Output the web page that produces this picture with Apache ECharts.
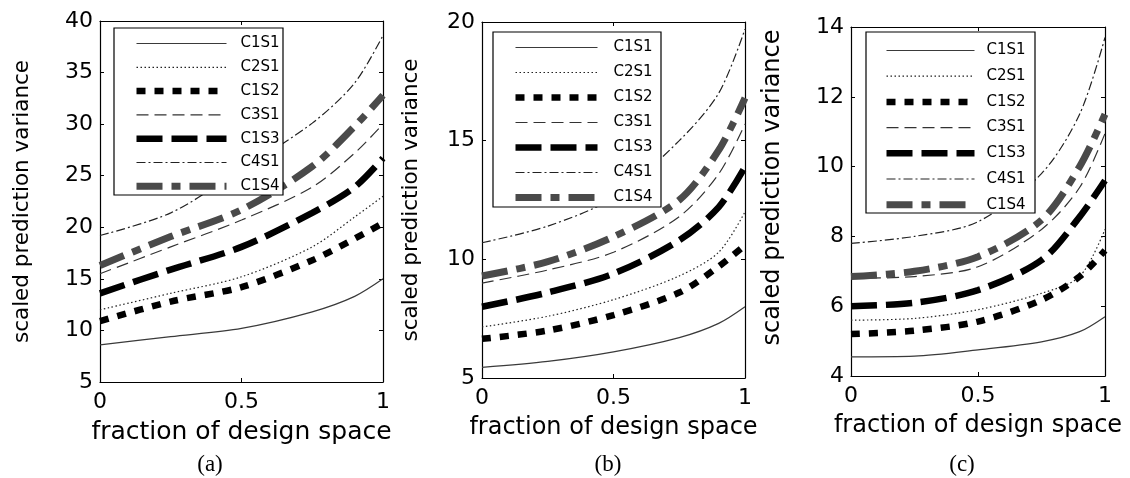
<!DOCTYPE html>
<html lang="en">
<head>
<meta charset="UTF-8">
<title>scaled prediction variance</title>
<script src="https://cdn.jsdelivr.net/npm/echarts/dist/echarts.min.js"></script>
<style>
    html, body { margin: 0; padding: 0; background: #fff; }
    #chart { width: 1130px; height: 478px; }
</style>
</head>
<body>
<div id="chart"></div>
<script>
// fraction of design space where the curves were read
var fds = [0, 0.25, 0.5, 0.75, 0.9, 1];
var names = ['C1S1', 'C2S1', 'C1S2', 'C3S1', 'C1S3', 'C4S1', 'C1S4'];
var xTicks = [0, 0.5, 1];

// (a)
var aC1S1 = [8.6, 9.4, 10.2, 11.8, 13.3, 15.0];
var aC2S1 = [12.0, 13.6, 15.2, 18.1, 21.0, 23.0];
var aC1S2 = [10.9, 12.8, 14.2, 16.8, 18.9, 20.4];
var aC3S1 = [15.5, 18.1, 20.7, 23.9, 27.2, 30.0];
var aC1S3 = [13.6, 15.9, 18.1, 21.4, 23.9, 26.7];
var aC4S1 = [19.2, 21.4, 25.6, 30.1, 34.0, 38.6];
var aC1S4 = [16.3, 19.1, 21.7, 25.9, 29.8, 32.8];
var yTicksA = [5, 10, 15, 20, 25, 30, 35, 40];

// (b)
var bC1S1 = [5.45, 5.7, 6.1, 6.7, 7.3, 8.0];
var bC2S1 = [7.15, 7.6, 8.3, 9.3, 10.3, 12.0];
var bC1S2 = [6.65, 7.0, 7.65, 8.6, 9.7, 10.6];
var bC3S1 = [9.0, 9.55, 10.3, 11.8, 13.6, 15.7];
var bC1S3 = [8.0, 8.6, 9.4, 10.8, 12.2, 13.9];
var bC4S1 = [10.7, 11.4, 12.6, 15.0, 17.0, 19.7];
var bC1S4 = [9.3, 9.9, 10.95, 12.5, 14.6, 16.8];
var yTicksB = [5, 10, 15, 20];

// (c)
var cC1S1 = [4.55, 4.57, 4.75, 4.98, 5.27, 5.7];
var cC2S1 = [5.6, 5.65, 5.9, 6.37, 6.85, 8.2];
var cC1S2 = [5.2, 5.3, 5.56, 6.18, 6.85, 7.6];
var cC3S1 = [6.8, 6.85, 7.13, 8.2, 9.4, 10.95];
var cC1S3 = [6.0, 6.1, 6.46, 7.32, 8.56, 9.6];
var cC4S1 = [7.8, 8.0, 8.42, 9.8, 11.5, 13.7];
var cC1S4 = [6.85, 7.0, 7.42, 8.47, 10.0, 11.5];
var yTicksC = [4, 6, 8, 10, 12, 14];

var sans = 'DejaVu Sans';
var styles = {
    C1S1: { color: '#3a3a3a', width: 1.2, type: 'solid' },
    C2S1: { color: '#222', width: 1.2, type: [1.5, 2.5] },
    C1S2: { color: '#000', width: 6.5, type: [9, 9] },
    C3S1: { color: '#333', width: 1.2, type: [12, 6] },
    C1S3: { color: '#000', width: 6.5, type: [26, 9] },
    C4S1: { color: '#222', width: 1.2, type: [9, 3, 2, 3] },
    C1S4: { color: '#4a4a4a', width: 7, type: [26, 9, 9, 9] }
};

var panels = [
    { data: [aC1S1, aC2S1, aC1S2, aC3S1, aC1S3, aC4S1, aC1S4], yTicks: yTicksA,
      grid: { left: 100, top: 21, width: 283, height: 361 },
      box: [114, 28, 169, 167], legLeft: 133, legTop: 36, lineLen: 90, row: 22.8, textGap: 14,
      xName: 25, yName: 21.5, yGap: 67, yPad: 0, caption: '(a)', capX: 210 },
    { data: [bC1S1, bC2S1, bC1S2, bC3S1, bC1S3, bC4S1, bC1S4], yTicks: yTicksB,
      grid: { left: 482, top: 22, width: 263, height: 356 },
      box: [493, 32, 168, 175], legLeft: 512, legTop: 40, lineLen: 82, row: 24, textGap: 16,
      xName: 24, yName: 21.5, yGap: 60, yPad: 0, caption: '(b)', capX: 608 },
    { data: [cC1S1, cC2S1, cC1S2, cC3S1, cC1S3, cC4S1, cC1S4], yTicks: yTicksC,
      grid: { left: 851, top: 27, width: 254, height: 349 },
      box: [866, 32, 169, 181], legLeft: 883, legTop: 43, lineLen: 88, row: 24.7, textGap: 12,
      xName: 24, yName: 24, yGap: 66, yPad: 28, caption: '(c)', capX: 962 }
];

var grids = [], xAxes = [], yAxes = [], series = [], legends = [], graphics = [];

function boxAxisLine() {
    return { onZero: false, lineStyle: { color: '#000', width: 1.2 } };
}

panels.forEach(function(p, i) {
    var yt = p.yTicks;
    grids.push(p.grid);

    // bottom + top (mirror) x axes
    xAxes.push({
        gridIndex: i, type: 'value', position: 'bottom',
        min: xTicks[0], max: xTicks[xTicks.length - 1], interval: xTicks[1] - xTicks[0],
        axisLine: boxAxisLine(),
        axisTick: { inside: true, length: 4, lineStyle: { color: '#000' } },
        axisLabel: { color: '#000', fontFamily: sans, fontSize: 22, margin: 9 },
        splitLine: { show: false },
        name: 'fraction of design space', nameLocation: 'middle', nameGap: 38,
        nameTextStyle: { color: '#000', fontFamily: sans, fontSize: p.xName }
    });
    xAxes.push({
        gridIndex: i, type: 'value', position: 'top',
        min: xTicks[0], max: xTicks[xTicks.length - 1], interval: xTicks[1] - xTicks[0],
        axisLine: boxAxisLine(),
        axisTick: { inside: true, length: 4, lineStyle: { color: '#000' } },
        axisLabel: { show: false }, splitLine: { show: false }
    });

    // left + right (mirror) y axes
    yAxes.push({
        gridIndex: i, type: 'value', position: 'left',
        min: yt[0], max: yt[yt.length - 1], interval: yt[1] - yt[0],
        axisLine: boxAxisLine(),
        axisTick: { inside: true, length: 4, lineStyle: { color: '#000' } },
        axisLabel: { color: '#000', fontFamily: sans, fontSize: 22, margin: 7 },
        splitLine: { show: false },
        name: 'scaled prediction variance', nameLocation: 'middle', nameGap: p.yGap,
        nameTextStyle: { color: '#000', fontFamily: sans, fontSize: p.yName, padding: [0, 0, 0, p.yPad] }
    });
    yAxes.push({
        gridIndex: i, type: 'value', position: 'right',
        min: yt[0], max: yt[yt.length - 1], interval: yt[1] - yt[0],
        axisLine: boxAxisLine(),
        axisTick: { inside: true, length: 4, lineStyle: { color: '#000' } },
        axisLabel: { show: false }, splitLine: { show: false }
    });

    names.forEach(function(n, k) {
        series.push({
            name: n, type: 'line', xAxisIndex: 2 * i, yAxisIndex: 2 * i,
            data: fds.map(function(x, j) { return [x, p.data[k][j]]; }),
            symbol: 'none', showSymbol: false, smooth: 0.3,
            silent: true, animation: false,
            lineStyle: styles[n]
        });
    });

    // legend frame, then the legend on top of it
    graphics.push({
        type: 'rect', z: 5,
        shape: { x: p.box[0], y: p.box[1], width: p.box[2], height: p.box[3] },
        style: { fill: '#fff', stroke: '#000', lineWidth: 1.2 }
    });
    legends.push({
        orient: 'vertical', left: p.legLeft, top: p.legTop, padding: 0,
        itemWidth: p.lineLen, itemHeight: 14, itemGap: p.row - 14,
        selectedMode: false, z: 6,
        textStyle: { color: '#000', fontFamily: sans, fontSize: 15, lineHeight: 14,
                     padding: [0, 0, 0, p.textGap - 5] },
        data: names.map(function(n) {
            return { name: n, lineStyle: styles[n], itemStyle: { opacity: 0 } };
        })
    });

    graphics.push({
        type: 'text', z: 6, x: p.capX, y: 465,
        style: { text: p.caption, fill: '#000', font: '23px "Liberation Serif"',
                 textAlign: 'center', textVerticalAlign: 'middle' }
    });
});

var chart = echarts.init(document.getElementById('chart'));
chart.setOption({
    animation: false,
    backgroundColor: '#fff',
    grid: grids,
    xAxis: xAxes,
    yAxis: yAxes,
    legend: legends,
    series: series,
    graphic: graphics
});
</script>
</body>
</html>
